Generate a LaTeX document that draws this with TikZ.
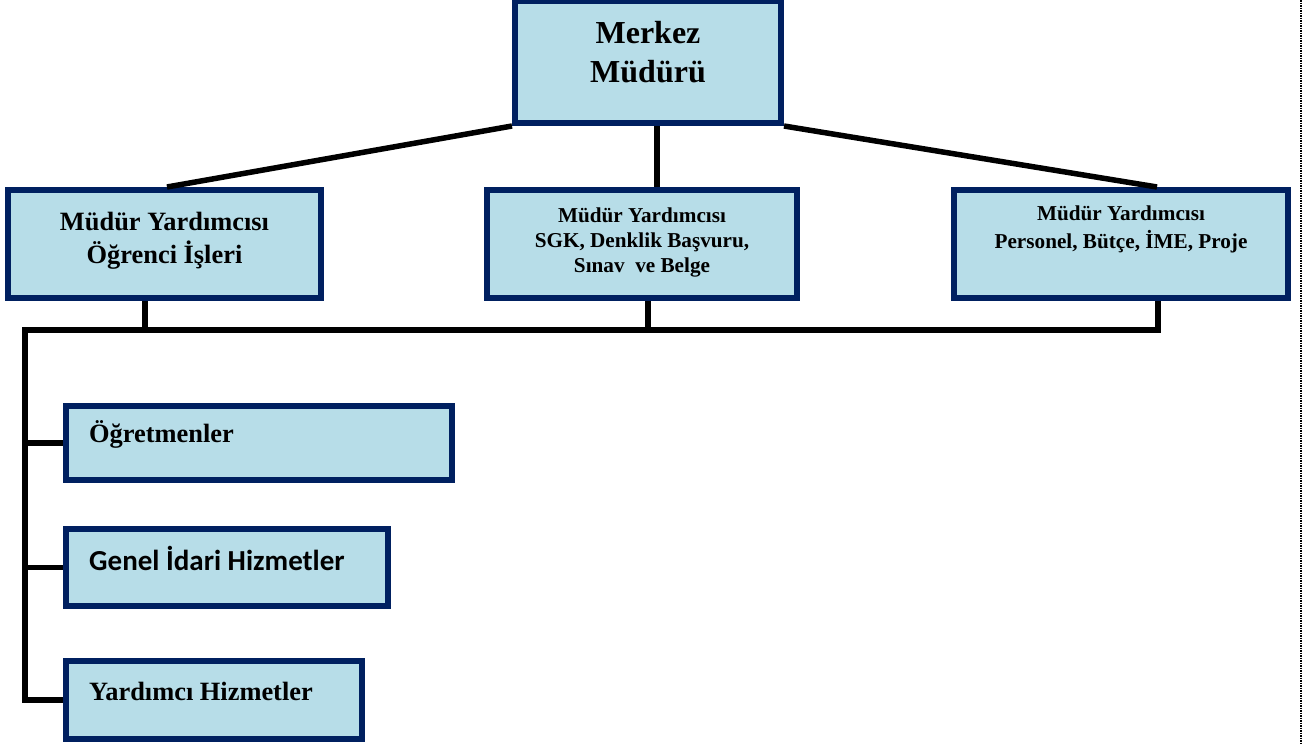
\documentclass[tikz,border=0pt]{standalone}
\usepackage{fontspec}
\setmainfont{Liberation Serif}
\newfontfamily\calfont{Carlito}
\definecolor{navy}{HTML}{002060}
\definecolor{lblue}{HTML}{B7DDE8}
\tikzset{
  box/.style={rectangle, draw=navy, line width=6pt, fill=lblue, inner sep=0pt},
  conn/.style={line width=5.5pt, draw=black},
  ctxt/.style={anchor=base, inner sep=0pt},
  ltxt/.style={anchor=base west, inner sep=0pt},
  fa/.style={font=\fontsize{32}{36}\selectfont\bfseries},
  fb/.style={font=\fontsize{26.4}{30}\selectfont\bfseries},
  fc/.style={font=\fontsize{21.2}{24}\selectfont\bfseries},
  fd/.style={font=\fontsize{29}{32}\selectfont\calfont\bfseries},
}
\begin{document}
\begin{tikzpicture}[x=1pt,y=-1pt]
\useasboundingbox (0,0) rectangle (1311,745);
% boxes
\node[box, minimum width=266pt, minimum height=122pt] (mm) at (648,62) {};
\node[box, minimum width=313pt, minimum height=108pt] (lb) at (164.5,244) {};
\node[box, minimum width=310pt, minimum height=108pt] (mb) at (642,244) {};
\node[box, minimum width=334pt, minimum height=108pt] (rb) at (1121,244) {};
\node[box, minimum width=386pt, minimum height=74pt] (b1) at (259,443) {};
\node[box, minimum width=322pt, minimum height=77pt] (b2) at (227,567.5) {};
\node[box, minimum width=296pt, minimum height=78pt] (b3) at (214,700) {};
% texts
\node[ctxt, fa] (mm1) at (648,43) {Merkez};
\node[ctxt, fa] (mm2) at (648,82) {Müdürü};
\node[ctxt, fb] (lb1) at (164.5,230) {Müdür Yardımcısı};
\node[ctxt, fb] (lb2) at (164.5,263) {Öğrenci İşleri};
\node[ctxt, fc] (mb1) at (642,222) {Müdür Yardımcısı};
\node[ctxt, fc] (mb2) at (642,247) {SGK, Denklik Başvuru,};
\node[ctxt, fc] (mb3) at (642,272) {Sınav\ \ ve Belge};
\node[ctxt, fc] (rb1) at (1121,220) {Müdür Yardımcısı};
\node[ctxt, fc] (rb2) at (1121,248) {Personel, Bütçe, İME, Proje};
\node[ltxt, fb] (b1t) at (89,442) {Öğretmenler};
\node[ltxt, fd] (b2t) at (89,570) {Genel İdari Hizmetler};
\node[ltxt, fb] (b3t) at (89,700) {Yardımcı Hizmetler};
% helper coordinates
\coordinate (stem) at (657,0);
\coordinate (dl) at (167,0);
\coordinate (dr) at (1157,0);
\coordinate (busR) at (1158,330);
\coordinate (busL) at (25,330);
\coordinate (sL) at (145,330);
\coordinate (sM) at (648,330);
% connectors
\draw[conn] (mm.south -| stem) -- (mb.north -| stem);
\draw[conn] (mm.south west) -- (lb.north -| dl);
\draw[conn] (mm.south east) -- (rb.north -| dr);
\draw[conn] (rb.south -| busR) -- (busR) -- (busL) |- (b3.west);
\draw[conn] (lb.south -| sL) -- (sL);
\draw[conn] (mb.south -| sM) -- (sM);
\draw[conn] (busL |- b1.west) -- (b1.west);
\draw[conn] (busL |- b2.west) -- (b2.west);
% page edge
\draw[line width=2.5pt, dash pattern=on 1.5pt off 1pt] (1301,0) -- (1301,745);
\end{tikzpicture}
\end{document}
